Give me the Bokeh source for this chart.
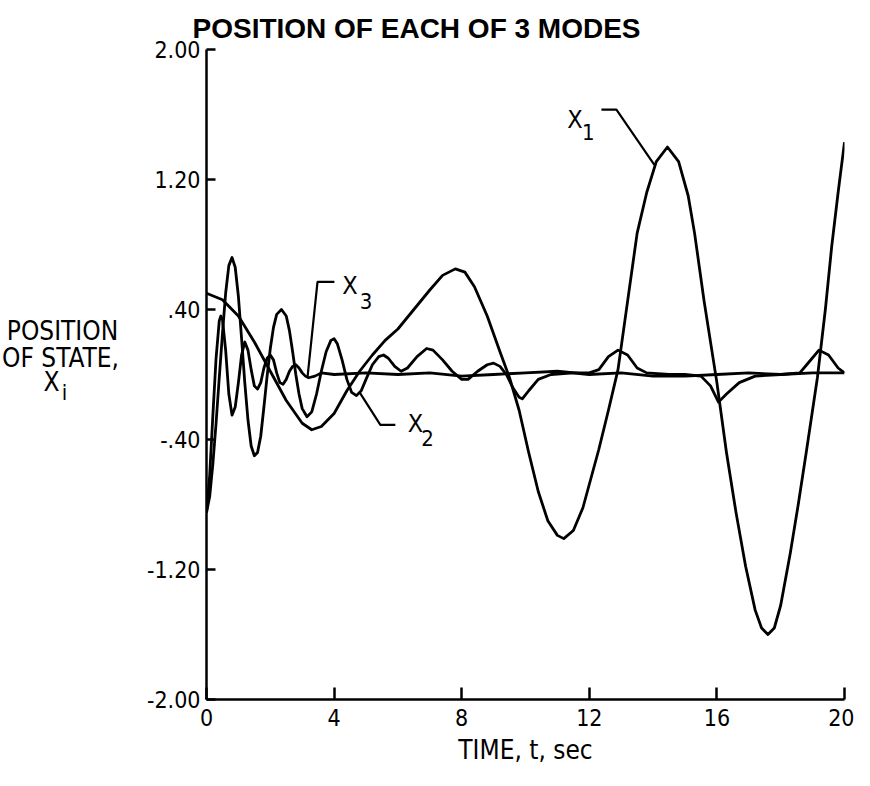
from bokeh.plotting import figure
from bokeh.models import Range1d, Label, FixedTicker
from bokeh.layouts import row
from bokeh.embed import file_html
from bokeh.resources import INLINE

# ---- data ----
t_x1 = [0, 0.5, 1.0, 1.5, 2.0, 2.5, 3.0, 3.3, 3.6, 4.0, 4.4, 4.8, 5.2, 5.6, 6.0, 6.5, 7.0,
        7.4, 7.8, 8.1, 8.4, 8.8, 9.2, 9.5, 9.8, 10.1, 10.4, 10.7, 11.0, 11.2, 11.5, 11.8,
        12.05, 12.3, 12.6, 12.9, 13.2, 13.5, 13.8, 14.1, 14.45, 14.8, 15.1, 15.3, 15.6,
        16.0, 16.3, 16.6, 16.9, 17.2, 17.4, 17.6, 17.8, 18.0, 18.3, 18.55, 18.8, 19.15,
        19.4, 19.6, 19.8, 20.0]
x1 = [0.50, 0.46, 0.36, 0.20, 0.02, -0.16, -0.30, -0.34, -0.32, -0.24, -0.10, 0.02, 0.12,
      0.21, 0.28, 0.40, 0.52, 0.61, 0.65, 0.63, 0.54, 0.36, 0.14, -0.02, -0.22, -0.48,
      -0.72, -0.90, -0.99, -1.01, -0.96, -0.82, -0.64, -0.46, -0.22, 0.03, 0.45, 0.87,
      1.12, 1.31, 1.40, 1.31, 1.10, 0.87, 0.45, -0.05, -0.48, -0.85, -1.18, -1.45, -1.56,
      -1.60, -1.56, -1.42, -1.10, -0.80, -0.48, -0.02, 0.40, 0.79, 1.12, 1.43]

t_x2 = [0, 0.1, 0.2, 0.3, 0.4, 0.5, 0.6, 0.7, 0.8, 0.9, 1.0, 1.1, 1.2, 1.3, 1.4, 1.5, 1.6,
        1.7, 1.8, 1.9, 2.0, 2.1, 2.2, 2.35, 2.5, 2.6, 2.7, 2.8, 2.9, 3.0, 3.15, 3.3, 3.45,
        3.6, 3.75, 3.9, 4.0, 4.1, 4.25, 4.4, 4.55, 4.7, 4.85, 5.0, 5.2, 5.4, 5.55, 5.7,
        5.9, 6.1, 6.3, 6.6, 6.9, 7.1, 7.4, 7.7, 8.0, 8.2, 8.5, 8.8, 9.0, 9.2, 9.4, 9.6,
        9.8, 9.9, 10.1, 10.4, 10.8, 11.5, 12.0, 12.3, 12.6, 12.9, 13.2, 13.5, 13.8, 14.5,
        15.0, 15.5, 15.8, 16.05, 16.3, 16.7, 17.2, 18.0, 18.6, 18.9, 19.2, 19.5, 19.8, 20.0]
x2 = [-0.85, -0.75, -0.55, -0.30, -0.02, 0.25, 0.50, 0.67, 0.72, 0.66, 0.48, 0.22, -0.05,
      -0.28, -0.44, -0.50, -0.48, -0.38, -0.20, -0.01, 0.16, 0.29, 0.37, 0.40, 0.36, 0.27,
      0.14, 0.00, -0.12, -0.21, -0.26, -0.23, -0.12, 0.02, 0.14, 0.21, 0.22, 0.19, 0.09,
      -0.03, -0.11, -0.13, -0.10, -0.03, 0.06, 0.11, 0.12, 0.10, 0.05, 0.02, 0.04, 0.11,
      0.16, 0.15, 0.09, 0.02, -0.03, -0.03, 0.02, 0.06, 0.07, 0.05, 0.00, -0.08, -0.14,
      -0.15, -0.10, -0.03, 0.00, 0.01, 0.01, 0.03, 0.11, 0.15, 0.12, 0.04, 0.01, 0.00,
      0.00, -0.01, -0.07, -0.17, -0.12, -0.05, -0.01, 0.00, 0.01, 0.08, 0.15, 0.12, 0.04,
      0.01]

t_x3 = [0, 0.1, 0.2, 0.3, 0.4, 0.45, 0.5, 0.6, 0.7, 0.8, 0.9, 1.0, 1.1, 1.2, 1.3, 1.4,
        1.5, 1.6, 1.7, 1.8, 1.9, 2.0, 2.1, 2.2, 2.3, 2.4, 2.5, 2.6, 2.7, 2.8, 2.9, 3.0,
        3.1, 3.2, 3.4, 3.6, 4.0, 5.0, 6.0, 7.0, 8.0, 9.0, 10.0, 11.0, 12.0, 13.0, 14.0,
        15.0, 16.0, 17.0, 18.0, 19.0, 20.0]
x3 = [-0.85, -0.62, -0.25, 0.10, 0.33, 0.36, 0.34, 0.15, -0.12, -0.25, -0.20, -0.05, 0.12,
      0.20, 0.15, 0.03, -0.07, -0.09, -0.05, 0.04, 0.10, 0.12, 0.09, 0.01, -0.05, -0.06,
      -0.03, 0.02, 0.05, 0.06, 0.04, 0.01, -0.01, -0.02, -0.01, 0.01, 0.00, 0.01, 0.00,
      0.01, -0.01, 0.00, 0.01, 0.02, 0.00, 0.01, -0.01, -0.01, 0.00, 0.01, 0.00, 0.01,
      0.01]

x_ticks = [0, 4, 8, 12, 16, 20]
y_ticks = [-2.0, -1.2, -0.4, 0.4, 1.2, 2.0]
y_tick_labels = ["-2.00", "-1.20", "-.40", ".40", "1.20", "2.00"]

FONT = "DejaVu Sans Condensed"
TICK = "23px"
AXL = "26px"

LEFT_W = 140
TOTAL_W = 854
H = 770


def lab(fig, x, y, text, size=AXL, align="center", font=FONT, style="normal",
        baseline="middle"):
    fig.add_layout(Label(x=x, y=y, text=text, text_font=font, text_font_size=size,
                         text_align=align, text_baseline=baseline, text_color="black",
                         text_font_style=style))


# ---- left strip with the y-axis title ----
left = figure(width=LEFT_W, height=H, x_range=Range1d(0, LEFT_W), y_range=Range1d(0, H),
              output_backend="svg", toolbar_location=None,
              x_axis_location=None, y_axis_location=None, min_border=0)
left.grid.visible = False
left.outline_line_color = None
lab(left, 62, H - 334, "POSITION")
lab(left, 60, H - 365, "OF STATE,")
lab(left, 51, H - 394, "X")
lab(left, 64, H - 406, "i", size="22px")

# ---- main plot ----
p = figure(width=TOTAL_W - LEFT_W, height=H, x_range=Range1d(0, 20), y_range=Range1d(-2, 2),
           output_backend="svg", toolbar_location=None,
           title="POSITION OF EACH OF 3 MODES",
           min_border_left=206 - LEFT_W, min_border_right=10,
           min_border_top=49, min_border_bottom=71)
p.grid.visible = False
p.outline_line_color = None
p.title.text_font = "Liberation Sans"
p.title.text_font_size = "28px"
p.title.text_font_style = "bold"
p.title.text_color = "black"
p.title.align = "left"
p.title.offset = -14
p.title.standoff = 12

for ax in (p.xaxis[0], p.yaxis[0]):
    ax.axis_line_width = 2.5
    ax.axis_line_color = "black"
    ax.major_tick_line_width = 2.5
    ax.major_tick_line_color = "black"
    ax.major_tick_out = 0
    ax.minor_tick_line_color = None
    ax.major_label_text_font = FONT
    ax.major_label_text_font_size = TICK
    ax.major_label_text_color = "black"

p.xaxis.ticker = FixedTicker(ticks=x_ticks)
p.xaxis.major_tick_in = 12
p.xaxis.major_label_standoff = 9
p.xaxis.axis_label = "TIME, t, sec"
p.xaxis.axis_label_text_font = FONT
p.xaxis.axis_label_text_font_size = AXL
p.xaxis.axis_label_text_font_style = "normal"
p.xaxis.axis_label_text_color = "black"
p.xaxis.axis_label_standoff = 6

p.yaxis.ticker = FixedTicker(ticks=y_ticks)
p.yaxis.major_tick_in = 9
p.yaxis.major_label_standoff = 6
p.yaxis.major_label_overrides = {v: s for v, s in zip(y_ticks, y_tick_labels)}

LW = 2.8
p.line(t_x1, x1, line_width=LW, line_color="black", line_join="round")
p.line(t_x2, x2, line_width=LW, line_color="black", line_join="round")
p.line(t_x3, x3, line_width=LW, line_color="black", line_join="round")

# leaders
p.line([12.38, 12.85, 14.04], [1.63, 1.63, 1.29], line_width=2.2, line_color="black")
p.line([4.01, 3.48, 3.17], [0.57, 0.57, -0.01], line_width=2.2, line_color="black")
p.line([4.8, 5.45, 5.92], [-0.11, -0.31, -0.31], line_width=2.2, line_color="black")

# curve labels
lab(p, 11.55, 1.57, "X", size="25px")
lab(p, 11.97, 1.49, "1", size="22px")
lab(p, 4.5, 0.55, "X", size="25px")
lab(p, 5.0, 0.45, "3", size="22px")
lab(p, 6.55, -0.30, "X", size="25px")
lab(p, 6.93, -0.39, "2", size="22px")

layout = row(left, p)
open("out.html", "w").write(file_html(layout, INLINE))
